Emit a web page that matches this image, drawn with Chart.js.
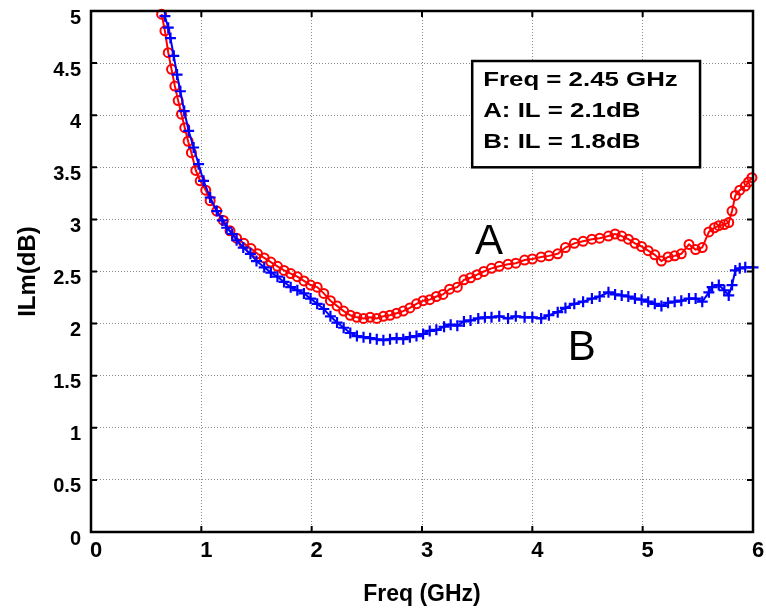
<!DOCTYPE html>
<html>
<head>
<meta charset="utf-8">
<script src="https://cdn.jsdelivr.net/npm/chart.js@4/dist/chart.umd.min.js"></script>
<style>
html,body{margin:0;padding:0;background:#fff;}
canvas{display:block;}
</style>
</head>
<body>
<canvas id="c" width="766" height="616"></canvas>
<script>
// ---- data ----
const freqA = [0.64,0.67,0.70,0.73,0.76,0.79,0.82,0.85,0.88,0.91,0.95,0.99,1.04,1.08,1.14,1.20,1.26,1.32,1.385,1.45,1.51,1.57,1.63,1.69,1.75,1.81,1.87,1.93,1.99,2.05,2.11,2.17,2.23,2.29,2.35,2.41,2.47,2.53,2.59,2.65,2.71,2.77,2.83,2.89,2.95,3.01,3.07,3.13,3.19,3.25,3.32,3.38,3.44,3.50,3.56,3.63,3.70,3.78,3.85,3.93,4.00,4.08,4.15,4.23,4.30,4.38,4.46,4.54,4.61,4.69,4.75,4.81,4.87,4.93,4.99,5.05,5.11,5.17,5.23,5.29,5.35,5.42,5.48,5.54,5.60,5.65,5.69,5.74,5.78,5.81,5.84,5.88,5.93,5.96,5.99];
const ilA   = [4.97,4.81,4.60,4.44,4.28,4.14,4.01,3.88,3.75,3.64,3.47,3.37,3.28,3.18,3.08,2.99,2.89,2.82,2.77,2.72,2.67,2.63,2.59,2.55,2.51,2.48,2.45,2.41,2.37,2.35,2.29,2.22,2.17,2.12,2.08,2.06,2.05,2.06,2.05,2.07,2.08,2.10,2.12,2.15,2.19,2.22,2.23,2.26,2.28,2.33,2.35,2.42,2.44,2.47,2.50,2.53,2.55,2.57,2.58,2.61,2.62,2.64,2.65,2.67,2.73,2.77,2.79,2.81,2.82,2.84,2.86,2.84,2.81,2.77,2.74,2.70,2.66,2.60,2.64,2.65,2.67,2.76,2.71,2.73,2.88,2.92,2.94,2.95,2.97,3.08,3.23,3.28,3.32,3.36,3.40];
const freqB = [0.67,0.70,0.72,0.75,0.78,0.81,0.845,0.885,0.93,0.975,1.02,1.08,1.14,1.19,1.23,1.28,1.32,1.38,1.445,1.50,1.57,1.63,1.69,1.75,1.81,1.87,1.93,1.99,2.05,2.11,2.17,2.23,2.29,2.35,2.41,2.47,2.53,2.59,2.65,2.71,2.77,2.83,2.89,2.95,3.01,3.07,3.13,3.20,3.26,3.32,3.38,3.44,3.51,3.57,3.63,3.70,3.78,3.85,3.93,4.00,4.08,4.15,4.23,4.30,4.38,4.46,4.54,4.61,4.69,4.75,4.81,4.87,4.93,4.99,5.05,5.11,5.17,5.23,5.29,5.35,5.42,5.48,5.54,5.60,5.63,5.69,5.74,5.78,5.81,5.84,5.88,5.93,6.00];
const ilB   = [4.95,4.84,4.74,4.57,4.39,4.23,4.04,3.85,3.69,3.53,3.37,3.21,3.08,2.99,2.92,2.86,2.80,2.73,2.67,2.60,2.54,2.49,2.45,2.40,2.35,2.32,2.29,2.24,2.19,2.14,2.07,2.01,1.96,1.91,1.88,1.87,1.86,1.85,1.84,1.85,1.86,1.85,1.87,1.88,1.90,1.93,1.94,1.97,1.99,1.98,2.02,2.03,2.05,2.06,2.06,2.07,2.05,2.07,2.06,2.06,2.05,2.08,2.11,2.15,2.19,2.21,2.24,2.26,2.30,2.28,2.27,2.26,2.24,2.23,2.21,2.19,2.17,2.20,2.21,2.22,2.24,2.24,2.21,2.30,2.35,2.37,2.32,2.27,2.37,2.51,2.53,2.54,2.54];
const xTicks = [0,1,2,3,4,5,6];
const yTicks = [0,0.5,1,1.5,2,2.5,3,3.5,4,4.5,5];
const seriesNames = ['A','B'];
const infoLines = ['Freq = 2.45 GHz','A: IL = 2.1dB','B: IL = 1.8dB'];
const xTitle = 'Freq (GHz)';
const yTitle = 'ILm(dB)';

const FONT = "'Liberation Sans', Arial, Helvetica, sans-serif";
const toPts = (xs, ys) => xs.map((x, i) => ({x, y: ys[i]}));

const overlay = {
  id: 'overlay',
  afterDatasetsDraw(chart) {
    const {ctx, chartArea: a, scales: {x, y}} = chart;
    ctx.save();
    // frame
    ctx.strokeStyle = '#000';
    ctx.lineWidth = 2.5;
    ctx.strokeRect(a.left, a.top, a.right - a.left, a.bottom - a.top);
    // inner ticks
    ctx.lineWidth = 2;
    const tl = 6;
    xTicks.forEach(v => {
      const px = x.getPixelForValue(v);
      ctx.beginPath();
      ctx.moveTo(px, a.bottom); ctx.lineTo(px, a.bottom - tl);
      ctx.moveTo(px, a.top); ctx.lineTo(px, a.top + tl);
      ctx.stroke();
    });
    yTicks.forEach(v => {
      const py = y.getPixelForValue(v);
      ctx.beginPath();
      ctx.moveTo(a.left, py); ctx.lineTo(a.left + tl, py);
      ctx.moveTo(a.right, py); ctx.lineTo(a.right - tl, py);
      ctx.stroke();
    });
    // info box
    const bx0 = x.getPixelForValue(3.455), bx1 = x.getPixelForValue(5.52);
    const by0 = y.getPixelForValue(4.52), by1 = y.getPixelForValue(3.50);
    ctx.fillStyle = '#fff';
    ctx.fillRect(bx0, by0, bx1 - bx0, by1 - by0);
    ctx.lineWidth = 2.5;
    ctx.strokeRect(bx0, by0, bx1 - bx0, by1 - by0);
    ctx.fillStyle = '#000';
    ctx.font = 'bold 21px ' + FONT;
    ctx.textBaseline = 'alphabetic';
    ctx.textAlign = 'left';
    infoLines.forEach((t, i) => {
      ctx.save();
      ctx.translate(bx0 + 11, by0 + 25 + i * 31);
      ctx.scale(1.23, 1);
      ctx.fillText(t, 0, 0);
      ctx.restore();
    });
    // series letters
    ctx.font = '42px ' + FONT;
    ctx.fillText(seriesNames[0], x.getPixelForValue(3.48), y.getPixelForValue(2.67));
    ctx.fillText(seriesNames[1], x.getPixelForValue(4.32), y.getPixelForValue(1.65));
    ctx.restore();
  }
};

new Chart(document.getElementById('c'), {
  type: 'line',
  data: {
    datasets: [
      {
        label: seriesNames[0],
        data: toPts(freqA, ilA),
        borderColor: '#ff0000',
        backgroundColor: 'rgba(0,0,0,0)',
        borderWidth: 2,
        pointStyle: 'circle',
        pointRadius: 4.5,
        pointBorderWidth: 2,
        pointBorderColor: '#ff0000',
        pointBackgroundColor: 'rgba(0,0,0,0)',
        tension: 0,
        clip: false,
        order: 1
      },
      {
        label: seriesNames[1],
        data: toPts(freqB, ilB),
        borderColor: '#0000ff',
        backgroundColor: 'rgba(0,0,0,0)',
        borderWidth: 2,
        pointStyle: 'cross',
        pointRadius: 5.5,
        pointBorderWidth: 2.2,
        pointBorderColor: '#0000ff',
        tension: 0,
        clip: false,
        order: 0
      }
    ]
  },
  options: {
    responsive: false,
    animation: false,
    layout: {padding: {left: 0, top: 11, right: 13, bottom: 0}},
    plugins: {legend: {display: false}, tooltip: {enabled: false}},
    scales: {
      x: {
        type: 'linear', min: 0, max: 6,
        afterBuildTicks: s => { s.ticks = xTicks.map(v => ({value: v})); },
        afterFit: s => { s.height = 84; s.paddingLeft = 0; s.paddingRight = 0; },
        border: {display: false, dash: [1, 2]},
        grid: {color: '#8c8c8c', lineWidth: 1, drawTicks: false},
        ticks: {
          padding: 6, labelOffset: 5, maxRotation: 0, autoSkip: false,
          color: '#000', font: {family: FONT, size: 22, weight: 'bold'},
          callback: v => String(v)
        },
        title: {display: true, text: xTitle, color: '#000', padding: {top: 0, bottom: 8}, font: {family: FONT, size: 23, weight: 'bold'}}
      },
      y: {
        type: 'linear', min: 0, max: 5,
        afterBuildTicks: s => { s.ticks = yTicks.map(v => ({value: v})); },
        afterFit: s => { s.width = 91; s.paddingTop = 0; s.paddingBottom = 0; },
        border: {display: false, dash: [1, 2]},
        grid: {color: '#8c8c8c', lineWidth: 1, drawTicks: false},
        ticks: {
          padding: 10, labelOffset: 7, autoSkip: false,
          color: '#000', font: {family: FONT, size: 20, weight: 'bold'},
          callback: v => String(v)
        },
        title: {display: true, text: yTitle, color: '#000', padding: {top: 13.6, bottom: 0}, font: {family: FONT, size: 24, weight: 'bold'}}
      }
    }
  },
  plugins: [overlay]
});
</script>
</body>
</html>
